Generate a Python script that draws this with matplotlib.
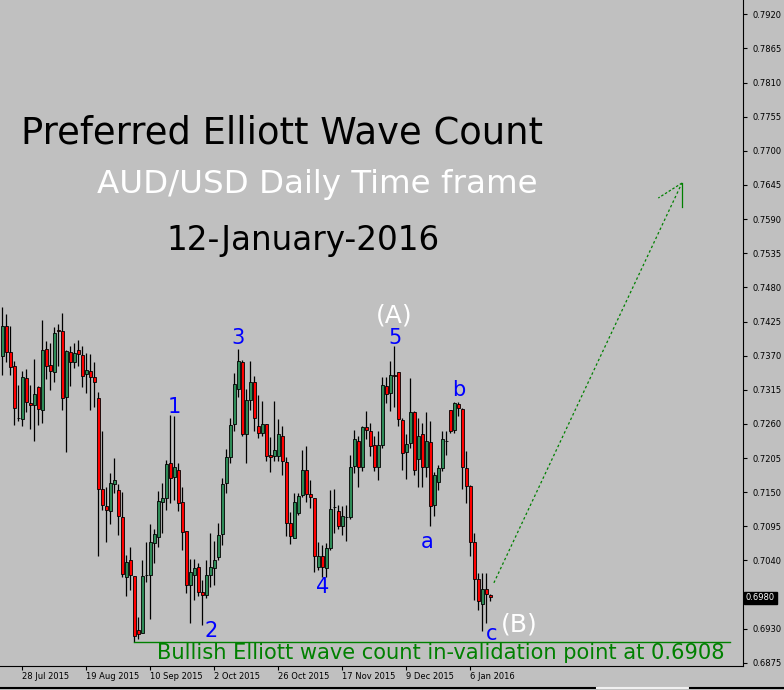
import numpy as np
import matplotlib
matplotlib.use("Agg")
import matplotlib.pyplot as plt
from matplotlib.lines import Line2D
from matplotlib.transforms import blended_transform_factory

# AUD/USD diario, velas (O, H, L, C)
opens = [0.7369, 0.7418, 0.7376, 0.7354, 0.7270, 0.7268, 0.7334, 0.7294, 0.7290, 0.7319,
         0.7282, 0.7381, 0.7355, 0.7343, 0.7411, 0.7409, 0.7303, 0.7376, 0.7360, 0.7379,
         0.7371, 0.7340, 0.7346, 0.7336, 0.7302, 0.7155, 0.7128, 0.7119, 0.7164, 0.7153,
         0.7110, 0.7014, 0.7040, 0.7015, 0.6928, 0.6923, 0.7017, 0.7017, 0.7068, 0.7078,
         0.7134, 0.7141, 0.7197, 0.7175, 0.7185, 0.7134, 0.7088, 0.7000, 0.7016, 0.7029,
         0.6989, 0.6985, 0.7017, 0.7028, 0.7045, 0.7083, 0.7165, 0.7207, 0.7260, 0.7316,
         0.7360, 0.7243, 0.7298, 0.7327, 0.7257, 0.7246, 0.7260, 0.7210, 0.7208, 0.7209,
         0.7241, 0.7199, 0.7100, 0.7077, 0.7116, 0.7145, 0.7185, 0.7147, 0.7141, 0.7030,
         0.7048, 0.7028, 0.7060, 0.7126, 0.7120, 0.7096, 0.7110, 0.7110, 0.7193, 0.7233,
         0.7191, 0.7255, 0.7249, 0.7226, 0.7191, 0.7226, 0.7321, 0.7310, 0.7339, 0.7344,
         0.7266, 0.7214, 0.7229, 0.7279, 0.7203, 0.7244, 0.7191, 0.7231, 0.7129, 0.7166,
         0.7189, 0.7233, 0.7283, 0.7250, 0.7292, 0.7284, 0.7189, 0.7160, 0.7069, 0.7010,
         0.6970, 0.6994, 0.6985]
highs = [0.7449, 0.7437, 0.7417, 0.7362, 0.7323, 0.7345, 0.7348, 0.7323, 0.7364, 0.7321,
         0.7428, 0.7394, 0.7391, 0.7416, 0.7421, 0.7439, 0.7379, 0.7385, 0.7390, 0.7396,
         0.7386, 0.7375, 0.7373, 0.7359, 0.7311, 0.7249, 0.7159, 0.7181, 0.7205, 0.7163,
         0.7151, 0.7049, 0.7062, 0.7015, 0.6949, 0.7040, 0.7069, 0.7099, 0.7091, 0.7152,
         0.7165, 0.7202, 0.7275, 0.7272, 0.7197, 0.7159, 0.7088, 0.7042, 0.7042, 0.7036,
         0.7009, 0.7041, 0.7084, 0.7071, 0.7100, 0.7173, 0.7220, 0.7269, 0.7342, 0.7381,
         0.7363, 0.7316, 0.7362, 0.7338, 0.7307, 0.7297, 0.7260, 0.7239, 0.7297, 0.7268,
         0.7257, 0.7207, 0.7118, 0.7148, 0.7148, 0.7218, 0.7224, 0.7169, 0.7141, 0.7069,
         0.7065, 0.7068, 0.7154, 0.7155, 0.7130, 0.7127, 0.7130, 0.7210, 0.7251, 0.7240,
         0.7256, 0.7281, 0.7261, 0.7241, 0.7249, 0.7336, 0.7336, 0.7361, 0.7385, 0.7344,
         0.7269, 0.7244, 0.7334, 0.7281, 0.7269, 0.7262, 0.7280, 0.7264, 0.7182, 0.7194,
         0.7249, 0.7248, 0.7283, 0.7295, 0.7296, 0.7286, 0.7216, 0.7162, 0.7084, 0.7020,
         0.7020, 0.7020, 0.6986]
lows = [0.7339, 0.7359, 0.7339, 0.7259, 0.7264, 0.7256, 0.7280, 0.7252, 0.7233, 0.7259,
        0.7262, 0.7333, 0.7314, 0.7328, 0.7353, 0.7282, 0.7214, 0.7321, 0.7350, 0.7353,
        0.7319, 0.7310, 0.7283, 0.7288, 0.7048, 0.7122, 0.7069, 0.7099, 0.7149, 0.7081,
        0.7014, 0.6982, 0.6993, 0.6908, 0.6913, 0.6923, 0.7005, 0.6946, 0.7036, 0.7062,
        0.7084, 0.7122, 0.7133, 0.7138, 0.7119, 0.7057, 0.6988, 0.6939, 0.6977, 0.6982,
        0.6936, 0.6979, 0.6998, 0.7001, 0.7041, 0.7065, 0.7149, 0.7197, 0.7248, 0.7304,
        0.7240, 0.7197, 0.7283, 0.7248, 0.7237, 0.7240, 0.7201, 0.7182, 0.7200, 0.7201,
        0.7177, 0.7080, 0.7067, 0.7077, 0.7113, 0.7143, 0.7135, 0.7125, 0.7022, 0.7025,
        0.7014, 0.7014, 0.7057, 0.7084, 0.7090, 0.7081, 0.7071, 0.7107, 0.7181, 0.7158,
        0.7184, 0.7235, 0.7209, 0.7184, 0.7169, 0.7221, 0.7293, 0.7281, 0.7287, 0.7256,
        0.7186, 0.7171, 0.7221, 0.7178, 0.7159, 0.7158, 0.7175, 0.7096, 0.7111, 0.7154,
        0.7184, 0.7210, 0.7246, 0.7246, 0.7272, 0.7155, 0.7133, 0.7048, 0.6977, 0.6961,
        0.6926, 0.6939, 0.6974]
closes = [0.7418, 0.7376, 0.7352, 0.7285, 0.7269, 0.7336, 0.7295, 0.7290, 0.7308, 0.7284,
          0.7379, 0.7354, 0.7345, 0.7406, 0.7410, 0.7302, 0.7377, 0.7360, 0.7374, 0.7372,
          0.7338, 0.7347, 0.7336, 0.7328, 0.7155, 0.7129, 0.7121, 0.7165, 0.7170, 0.7112,
          0.7018, 0.7038, 0.7016, 0.6918, 0.6922, 0.7015, 0.7017, 0.7069, 0.7083, 0.7136,
          0.7141, 0.7195, 0.7173, 0.7191, 0.7133, 0.7086, 0.7001, 0.7022, 0.7028, 0.6989,
          0.6984, 0.7016, 0.7029, 0.7041, 0.7081, 0.7163, 0.7207, 0.7258, 0.7324, 0.7361,
          0.7243, 0.7299, 0.7327, 0.7269, 0.7246, 0.7260, 0.7209, 0.7207, 0.7218, 0.7243,
          0.7200, 0.7101, 0.7079, 0.7135, 0.7144, 0.7185, 0.7147, 0.7142, 0.7048, 0.7047,
          0.7029, 0.7060, 0.7123, 0.7126, 0.7096, 0.7111, 0.7110, 0.7191, 0.7235, 0.7191,
          0.7255, 0.7251, 0.7225, 0.7191, 0.7226, 0.7323, 0.7308, 0.7339, 0.7338, 0.7268,
          0.7213, 0.7228, 0.7280, 0.7185, 0.7241, 0.7191, 0.7232, 0.7127, 0.7177, 0.7189,
          0.7236, 0.7233, 0.7248, 0.7294, 0.7286, 0.7190, 0.7160, 0.7069, 0.7010, 0.6974,
          0.6994, 0.6986, 0.6981]

date_pos = [5, 21, 37, 53, 69, 85, 101, 117]
date_labels = ["28 Jul 2015", "19 Aug 2015", "10 Sep 2015", "2 Oct 2015",
               "26 Oct 2015", "17 Nov 2015", "9 Dec 2015", "6 Jan 2016"]

# etiquetas de ondas: texto, indice, precio (linea base)
wave_txt = ["1", "2", "3", "4", "5", "a", "b", "c"]
wave_x = [43.1, 52.1, 58.9, 80.0, 98.05, 106.1, 114.0, 122.3]
wave_y = [0.7278, 0.6917, 0.7389, 0.6988, 0.7389, 0.7060, 0.7305, 0.6912]
big_txt = ["(A)", "(B)"]
big_x = [97.9, 129.2]
big_y = [0.7423, 0.6926]

invalidation = 0.6908
last_price = 0.6980
target_from = (122.9, 0.7004)
target_to = (169.9, 0.7648)

BG = "#C0C0C0"
GREEN_BODY = "#2E8B57"
GREEN_TXT = "#008000"

fig = plt.figure(figsize=(7.84, 6.90), dpi=100, facecolor=BG)
ax = fig.add_axes([0.0, 24 / 690, 743 / 784, 666 / 690], facecolor=BG)

o = np.array(opens)
h = np.array(highs)
l = np.array(lows)
c = np.array(closes)
x = np.arange(len(o))

ax.vlines(x, l, h, color="black", linewidth=0.9, zorder=2)
up = c >= o
ax.bar(x[up], (c - o)[up], bottom=o[up], width=0.85, color=GREEN_BODY,
       edgecolor="black", linewidth=0.6, zorder=3)
ax.bar(x[~up], (o - c)[~up], bottom=c[~up], width=0.85, color="red",
       edgecolor="black", linewidth=0.6, zorder=3)

ax.set_xlim(-0.575, 185.175)
ax.set_ylim(0.6870, 0.7943)

# linea de invalidacion
ax.plot([33, 181.9], [invalidation, invalidation], color=GREEN_TXT, linewidth=1, zorder=4)

# flecha objetivo
ax.plot([target_from[0], target_to[0]], [target_from[1], target_to[1]],
        color=GREEN_TXT, linewidth=0.9, linestyle=(0, (2, 2)), zorder=4)
ax.plot([target_to[0], 164.0], [target_to[1], 0.7624],
        color=GREEN_TXT, linewidth=0.9, linestyle=(0, (2, 1.5)), zorder=4)
ax.plot([target_to[0], target_to[0]], [target_to[1], 0.7610],
        color=GREEN_TXT, linewidth=0.9, zorder=4)

for t, xx, yy in zip(wave_txt, wave_x, wave_y):
    ax.text(xx, yy, t, color="blue", fontsize=15, ha="center", va="baseline", zorder=5)
for t, xx, yy in zip(big_txt, big_x, big_y):
    ax.text(xx, yy, t, color="white", fontsize=18, ha="center", va="baseline", zorder=5)

# ejes estilo MT4
for side in ["left", "top"]:
    ax.spines[side].set_visible(False)
ax.spines["right"].set_color("black")
ax.spines["bottom"].set_color("black")
ax.yaxis.tick_right()
yt = np.arange(0.6875, 0.79201, 0.0055)
ax.set_yticks(yt)
# la etiqueta 0.6985 queda tapada por el precio actual
ax.set_yticklabels(["" if abs(v - 0.6985) < 1e-6 else f"{v:.4f}" for v in yt])
ax.tick_params(axis="y", direction="out", length=3, width=0.8, pad=4,
               labelsize=6, colors="black")
ax.set_xticks(date_pos)
ax.set_xticklabels(date_labels)
ax.tick_params(axis="x", direction="out", length=3, width=0.8, pad=1.5,
               labelsize=6, colors="black")
for lab in ax.get_xticklabels():
    lab.set_horizontalalignment("left")

tr = blended_transform_factory(ax.transAxes, ax.transData)
ax.text(1.004, last_price, f"{last_price:.4f}", transform=tr, color="white",
        fontsize=6, ha="left", va="center", zorder=10, clip_on=False,
        bbox=dict(facecolor="black", edgecolor="black", pad=1.2))

# textos
fig.text(282 / 784, 1 - 144 / 690, "Preferred Elliott Wave Count", fontsize=26.6,
         color="black", ha="center", va="baseline")
fig.text(317.5 / 784, 1 - 193 / 690, "AUD/USD Daily Time frame", fontsize=23.4,
         color="white", ha="center", va="baseline")
fig.text(303 / 784, 1 - 250 / 690, "12-January-2016", fontsize=23.5,
         color="black", ha="center", va="baseline")
fig.text(157 / 784, 1 - 659 / 690,
         "Bullish Elliott wave count in-validation point at 0.6908",
         fontsize=15.1, color=GREEN_TXT, ha="left", va="baseline", zorder=6)

# barra inferior
fig.add_artist(Line2D([0, 597 / 784], [2 / 690, 2 / 690], color="black", linewidth=1.5))
fig.add_artist(Line2D([597 / 784, 690 / 784], [2 / 690, 2 / 690], color="#F0F0F0", linewidth=1.5))
fig.add_artist(Line2D([690 / 784, 1], [2 / 690, 2 / 690], color="black", linewidth=1.5))

fig.savefig("out.png", dpi=100, facecolor=BG)
